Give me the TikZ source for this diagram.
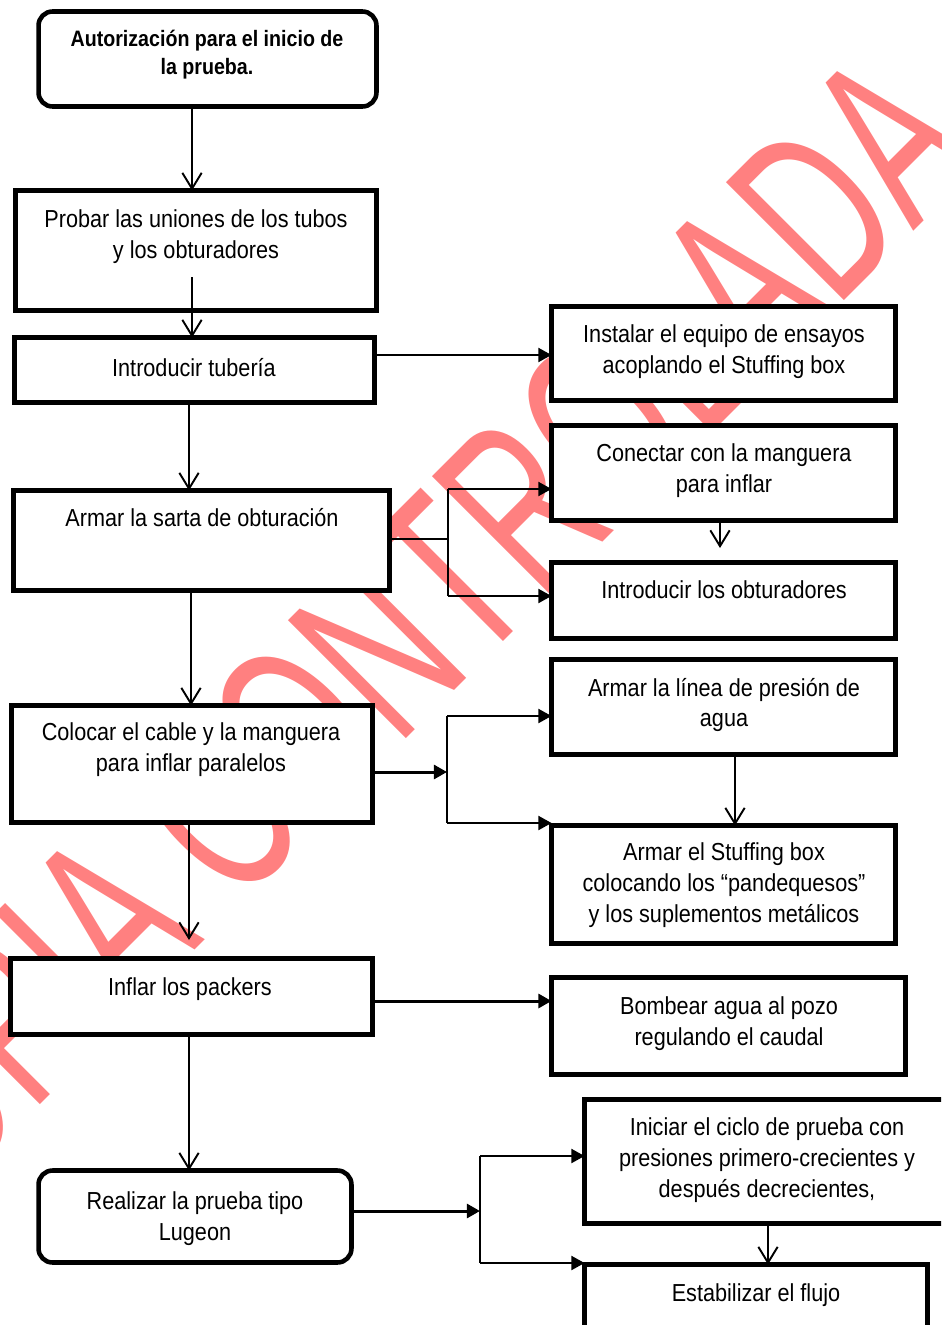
\documentclass[tikz,border=0pt]{standalone}
\usepackage{fontspec}
\setmainfont[FakeStretch=0.88]{Liberation Sans}
\newfontfamily\wmfont[FakeStretch=0.63]{Liberation Sans}
\usetikzlibrary{arrows.meta,calc}
\definecolor{wm}{RGB}{255,128,128}
\begin{document}
\begin{tikzpicture}[x=0.02cm,y=-0.02cm,
  box/.style={draw, line width=2.6pt, fill=white, inner sep=0pt, outer sep=0pt},
  rbox/.style={box, rounded corners=2.8mm},
  txt/.style={align=center, inner sep=0pt, font=\fontsize{14pt}{17.6pt}\selectfont},
  ttl/.style={align=center, inner sep=0pt, font=\fontsize{12.7pt}{15.9pt}\selectfont\bfseries},
  conn/.style={line width=1.1pt},
  va/.style={conn, -{Straight Barb[length=9pt,width=11pt,line width=1.1pt]}},
  fa/.style={conn, -{Triangle[length=7.5pt,width=8pt]}},
  tha/.style={fa, line width=1.7pt}]
\newcommand\bx[6]{\node[#1, minimum width=#4*0.2mm, minimum height=#5*0.2mm] (#2) at (#3) {#6};}
\useasboundingbox (0,0) rectangle (941,1325);
\clip (0,0) rectangle (941,1325);
% watermark
\node[text=wm, rotate=45, inner sep=0pt] (wmark) at (368.5,658.5)
  {\wmfont\fontsize{138pt}{140pt}\selectfont COPIA CONTROLADA};
% boxes
\bx{rbox}{title}{207.5,59}{338}{95}{}
\bx{box}{probar}{196,250.5}{361}{120}{}
\bx{box}{intro}{194.5,370}{360}{65}{}
\bx{box}{instalar}{723.5,353.5}{344}{94}{}
\bx{box}{conectar}{723.5,473}{344}{95}{}
\bx{box}{obtur}{723.5,600.5}{344}{76}{}
\bx{box}{sarta}{201.5,540.5}{376}{100}{}
\bx{box}{linea}{723.5,707}{344}{95}{}
\bx{box}{colocar}{192,764}{361}{117}{}
\bx{box}{stuffing}{723.5,884.5}{344}{118}{}
\bx{box}{inflar}{191.5,996.5}{362}{76}{}
\bx{box}{bombear}{728.5,1026}{354}{97}{}
\bx{rbox}{realizar}{195,1216.5}{313}{92}{}
\bx{box}{iniciar}{767,1161.5}{365}{124}{}
\bx{box}{estab}{756,1303.5}{343}{78}{}
% texts
\node[ttl] (t1) at (207,55) {Autorización para el inicio de\\la prueba.};
\node[txt] (t2) at (196,236.5) {Probar las uniones de los tubos\\y los obturadores};
\node[txt] (t3) at (194,368) {Introducir tubería};
\node[txt] (t4) at (724,351.5) {Instalar el equipo de ensayos\\acoplando el Stuffing box};
\node[txt] (t5) at (724,470.5) {Conectar con la manguera\\para inflar};
\node[txt] (t6) at (724,590) {Introducir los obturadores};
\node[txt] (t7) at (202,518) {Armar la sarta de obturación};
\node[txt] (t8) at (724,705) {Armar la línea de presión de\\agua};
\node[txt] (t9) at (191,750) {Colocar el cable y la manguera\\para inflar paralelos};
\node[txt] (t10) at (724,885) {Armar el Stuffing box\\colocando los “pandequesos”\\y los suplementos metálicos};
\node[txt] (t11) at (190,989) {Inflar los packers};
\node[txt] (t12) at (729,1024) {Bombear agua al pozo\\regulando el caudal};
\node[txt] (t13) at (195,1219) {Realizar la prueba tipo\\Lugeon};
\node[txt] (t14) at (767,1160) {Iniciar el ciclo de prueba con\\presiones primero-crecientes y\\después decrecientes,};
\node[txt] (t15) at (756,1295) {Estabilizar el flujo};
% helper coordinates
\coordinate (x192) at (192,0);
\coordinate (x189) at (189,0);
\coordinate (x191) at (191,0);
\coordinate (p2s) at (192,277);
\coordinate (ci) at (189,940);
\coordinate (y355) at (0,355);
\coordinate (y1001) at (0,1001);
\coordinate (j1) at (448,539);
\coordinate (j1a) at (448,489);
\coordinate (j1b) at (448,596);
\coordinate (k) at (720,548);
\coordinate (j2) at (447,772);
\coordinate (j2a) at (447,716);
\coordinate (j2b) at (447,823);
\coordinate (x735) at (735,0);
\coordinate (j3) at (480,1211);
\coordinate (j3a) at (480,1156);
\coordinate (j3b) at (480,1263);
\coordinate (x768) at (768,0);
% connectors
\draw[va] (title.south -| x192) -- (probar.north -| x192);
\draw[va] (p2s) -- (intro.north -| p2s);
\draw[va] (intro.south -| x189) -- (sarta.north -| x189);
\draw[va] (sarta.south -| x191) -- (colocar.north -| x191);
\draw[va] (colocar.south -| ci) -- (ci);
\draw[va] (inflar.south -| x189) -- (realizar.north -| x189);
\draw[fa] (intro.east |- y355) -- (instalar.west |- y355);
\draw[conn] (sarta.east |- j1) -- (j1);
\draw[conn] (j1a) -- (j1b);
\draw[fa] (j1a) -- (conectar.west |- j1a);
\draw[fa] (j1b) -- (obtur.west |- j1b);
\draw[va] (conectar.south -| k) -- (k);
\draw[tha] (colocar.east |- j2) -- (j2);
\draw[conn] (j2a) -- (j2b);
\draw[fa] (j2a) -- (linea.west |- j2a);
\draw[fa] (j2b) -- (stuffing.west |- j2b);
\draw[va] (linea.south -| x735) -- (stuffing.north -| x735);
\draw[tha] (inflar.east |- y1001) -- (bombear.west |- y1001);
\draw[tha] (realizar.east |- j3) -- (j3);
\draw[conn] (j3a) -- (j3b);
\draw[fa] (j3a) -- (iniciar.west |- j3a);
\draw[fa] (j3b) -- (estab.west |- j3b);
\draw[va] (iniciar.south -| x768) -- (estab.north -| x768);
\end{tikzpicture}
\end{document}
